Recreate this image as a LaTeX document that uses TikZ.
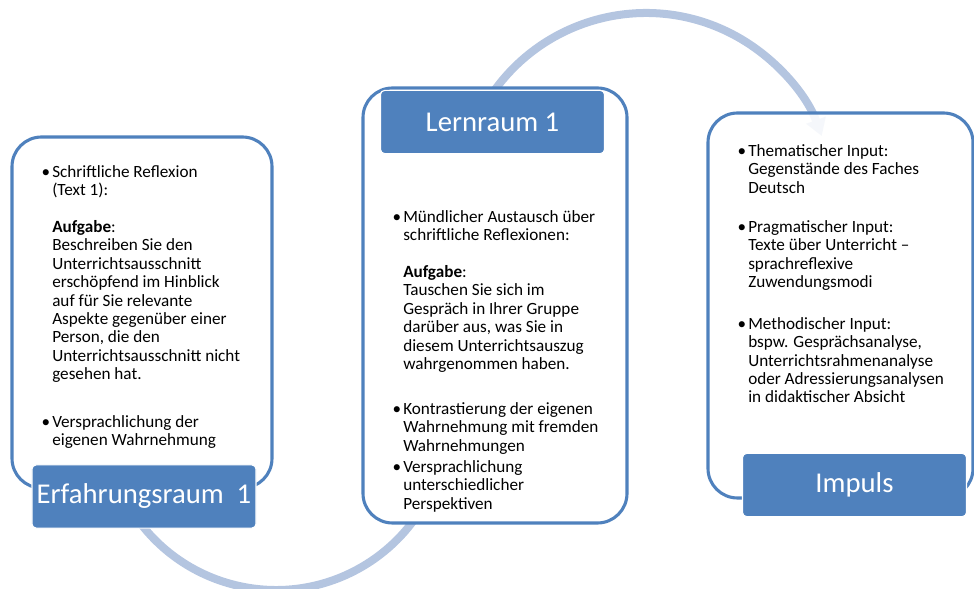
\documentclass[tikz,border=0pt]{standalone}
\usepackage{fontspec}
\setmainfont{Carlito}
\usetikzlibrary{arrows.meta}

\definecolor{boxblue}{RGB}{79,129,189}
\definecolor{arcblue}{RGB}{180,197,224}

\newcommand{\bul}{\llap{\textbullet\hspace{1.5pt}}}

\tikzset{
  frame/.style={draw=boxblue, line width=2.2pt, rounded corners=21pt, fill=white},
  title/.style={fill=boxblue, draw=white, line width=0.8pt, rounded corners=3pt,
    text=white, font=\fontsize{20.4}{24}\selectfont, inner sep=0pt,
    minimum width=5.6cm, minimum height=1.58cm},
  entry/.style={anchor=north west, align=left, inner sep=0pt,
    font=\fontsize{12.2}{13.1}\selectfont},
  flowarc/.style={draw=arcblue, line width=5.7pt}
}

\begin{document}
\begin{tikzpicture}[x=0.025cm, y=-0.025cm]
    \useasboundingbox (0,0) rectangle (974,589);

    % Arcs behind the boxes
    \coordinate (c1) at (276,419);
    \coordinate (c2) at (646,200);
    \draw[flowarc] (c1) ++(150:171) arc[start angle=150, end angle=30, radius=171];
    \draw[flowarc, -{Triangle[length=12pt, width=14pt]}]
        (c2) ++(212:187) arc[start angle=212, end angle=340, radius=187];

    % Frames
    \draw[frame] (12,137) rectangle (272,488);
    \draw[frame] (363,88) rectangle (627,523);
    \draw[frame, fill opacity=0.88] (708,113) rectangle (973,498);

    % Titles
    \node[title] (erf) at (144,496.5) {Erfahrungsraum\ \ 1};
    \node[title] (lern) at (492.5,122) {Lernraum 1};
    \node[title] (imp) at (854.5,485) {Impuls};

    % Left box
    \node[entry] (l1) at (52,165) {\bul Schriftliche Reflexion\\(Text 1):\\[13.1pt]
        \textbf{Aufgabe}:\\Beschreiben Sie den\\Unterrichtsausschnitt\\
        erschöpfend im Hinblick\\auf für Sie relevante\\Aspekte gegenüber einer\\
        Person, die den\\Unterrichtsausschnitt nicht\\gesehen hat.};
    \node[entry] (l2) at (52,415) {\bul Versprachlichung der\\eigenen Wahrnehmung};

    % Middle box
    \node[entry] (m1) at (403,210) {\bul Mündlicher Austausch über\\
        schriftliche Reflexionen:\\[13.1pt]\textbf{Aufgabe}:\\Tauschen Sie sich im\\
        Gespräch in Ihrer Gruppe\\darüber aus, was Sie in\\
        diesem Unterrichtsauszug\\wahrgenommen haben.};
    \node[entry] (m2) at (403,402) {\bul Kontrastierung der eigenen\\
        Wahrnehmung mit fremden\\Wahrnehmungen};
    \node[entry] (m3) at (403,460) {\bul Versprachlichung\\unterschiedlicher\\Perspektiven};

    % Right box
    \node[entry] (r1) at (748,144) {\bul Thematischer Input:\\Gegenstände des Faches\\Deutsch};
    \node[entry] (r2) at (748,220) {\bul Pragmatischer Input:\\Texte über Unterricht –\\
        sprachreflexive\\Zuwendungsmodi};
    \node[entry] (r3) at (748,317) {\bul Methodischer Input:\\bspw. Gesprächsanalyse,\\
        Unterrichtsrahmenanalyse\\oder Adressierungsanalysen\\in didaktischer Absicht};

  \end{tikzpicture}
\end{document}
